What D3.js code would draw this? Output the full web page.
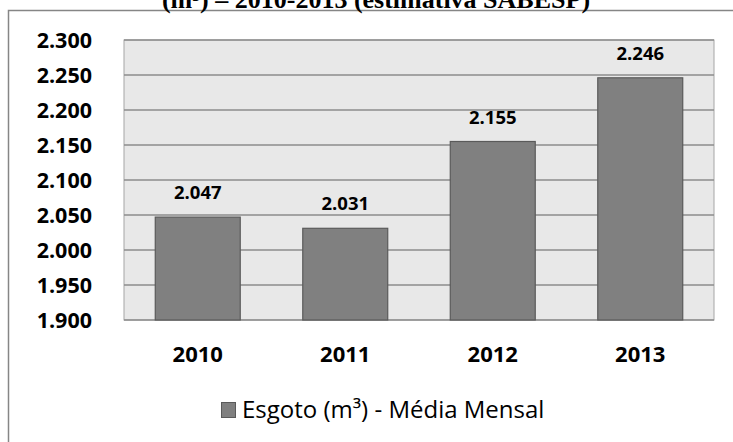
<!DOCTYPE html>
<html>
<head>
<meta charset="utf-8">
<script src="https://cdn.jsdelivr.net/npm/d3@7/dist/d3.min.js"></script>
<style>
  html, body { margin: 0; padding: 0; background: #fff; overflow: hidden; }
  svg { display: block; }
</style>
</head>
<body>
<svg id="chart" width="733" height="442"></svg>
<script>
// ---- data ----
const years = ["2010", "2011", "2012", "2013"];
const esgoto = [2047, 2031, 2155, 2246];
const yTicks = [1900, 1950, 2000, 2050, 2100, 2150, 2200, 2250, 2300];
const titleText = "(m³) – 2010-2013 (estimativa SABESP)";
const legendText = "Esgoto (m³) - Média Mensal";

const W = 733, H = 442;
const plot = { left: 124, right: 714, top: 40, bottom: 320 };

const loc = d3.formatLocale({ decimal: ",", thousands: ".", grouping: [3], currency: ["R$", ""] });
const fmt = loc.format(",d");

const svg = d3.select("#chart");

// outer chart border (clipped at right / bottom)
svg.append("rect")
  .attr("x", 8.5).attr("y", 10.5)
  .attr("width", W + 20).attr("height", H + 20)
  .attr("fill", "#fff")
  .attr("stroke", "#868686").attr("stroke-width", 1.5);

// title (partially cut off at top, as in the reference)
svg.append("text")
  .attr("x", 376).attr("y", 8)
  .attr("text-anchor", "middle")
  .attr("font-family", "'Liberation Serif', 'Times New Roman', serif")
  .attr("font-weight", "bold")
  .attr("font-size", 26)
  .attr("fill", "#000")
  .text(titleText);

const x = d3.scaleBand()
  .domain(years)
  .range([plot.left, plot.right])
  .paddingInner(0.424)
  .paddingOuter(0.212);

const y = d3.scaleLinear()
  .domain([1900, 2300])
  .range([plot.bottom, plot.top]);

// plot background
svg.append("rect")
  .attr("x", plot.left).attr("y", plot.top)
  .attr("width", plot.right - plot.left)
  .attr("height", plot.bottom - plot.top)
  .attr("fill", "#e8e8e8")
  .attr("stroke", "#a6a6a6").attr("stroke-width", 1);

// gridlines
svg.append("g")
  .selectAll("line")
  .data(yTicks)
  .join("line")
  .attr("x1", plot.left).attr("x2", plot.right)
  .attr("y1", d => y(d)).attr("y2", d => y(d))
  .attr("stroke", "#8c8c8c").attr("stroke-width", 1.5);

// y axis labels
const yAxis = d3.axisLeft(y).tickValues(yTicks).tickFormat(fmt).tickSize(0).tickPadding(0);
const gy = svg.append("g")
  .attr("transform", `translate(92,0)`)
  .call(yAxis);
gy.select(".domain").remove();
gy.selectAll("text")
  .attr("font-family", "'Open Sans', sans-serif")
  .attr("font-weight", "bold")
  .attr("font-size", 21.5)
  .attr("fill", "#000")
  .attr("dy", "0.36em");

// x axis labels
const xAxis = d3.axisBottom(x).tickSize(0).tickPadding(0);
const gx = svg.append("g")
  .attr("transform", `translate(0,${plot.bottom})`)
  .call(xAxis);
gx.select(".domain").remove();
gx.selectAll("text")
  .attr("font-family", "'Open Sans', sans-serif")
  .attr("font-weight", "bold")
  .attr("font-size", 22)
  .attr("fill", "#000")
  .attr("dy", null)
  .attr("y", 42);

// bars
const data = years.map((yr, i) => ({ yr, v: esgoto[i] }));
svg.append("g")
  .selectAll("rect")
  .data(data)
  .join("rect")
  .attr("x", d => x(d.yr))
  .attr("y", d => y(d.v))
  .attr("width", x.bandwidth())
  .attr("height", d => y(1900) - y(d.v))
  .attr("fill", "#808080")
  .attr("stroke", "#5a5a5a").attr("stroke-width", 1.2);

// data labels
svg.append("g")
  .selectAll("text")
  .data(data)
  .join("text")
  .attr("x", d => x(d.yr) + x.bandwidth() / 2)
  .attr("y", d => y(d.v) - 18)
  .attr("text-anchor", "middle")
  .attr("font-family", "'Open Sans', sans-serif")
  .attr("font-weight", "bold")
  .attr("font-size", 18.5)
  .attr("fill", "#000")
  .text(d => fmt(d.v));

// legend
const lg = svg.append("g");
lg.append("rect")
  .attr("x", 221.5).attr("y", 402.5)
  .attr("width", 14).attr("height", 15)
  .attr("fill", "#808080")
  .attr("stroke", "#5a5a5a").attr("stroke-width", 1);
lg.append("text")
  .attr("x", 242).attr("y", 418)
  .attr("font-family", "'Open Sans', sans-serif")
  .attr("font-size", 24)
  .attr("fill", "#000")
  .text(legendText);
</script>
</body>
</html>
